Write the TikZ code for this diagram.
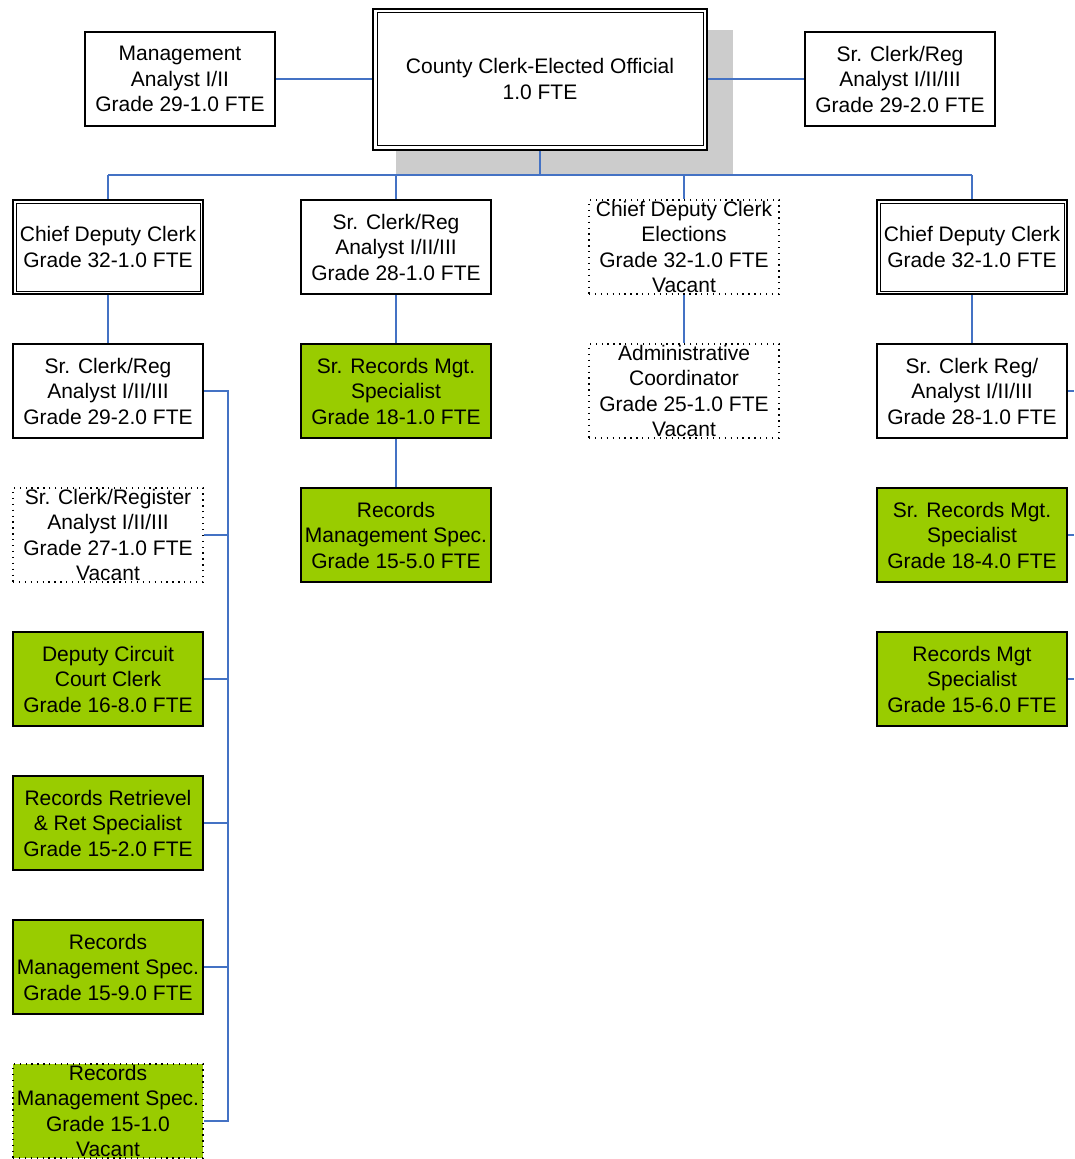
\documentclass[tikz,border=0pt]{standalone}
\usepackage{fontspec}
\setmainfont{Liberation Sans}
\definecolor{grn}{RGB}{153,204,0}
\definecolor{lnk}{RGB}{68,114,196}
\definecolor{shd}{RGB}{204,204,204}
\begin{document}
\begin{tikzpicture}[x=1pt,y=-1pt,
  base/.style={minimum width=190pt, minimum height=94pt, inner sep=0pt, align=center,
    font=\fontsize{21}{25.5}\selectfont, fill=white},
  box/.style={base, draw=black, line width=2pt},
  dbox/.style={base, draw=black, line width=2pt},
  dotbox/.style={base, draw=black, line width=1.3pt, dash pattern=on 1.3pt off 4.6pt},
  green/.style={fill=grn},
  conn/.style={draw=lnk, line width=1.6pt},
  inner/.style={draw=black, line width=1pt}
]
\useasboundingbox (0,0) rectangle (1074,1159);

% shadow of top box
\fill[shd] (396,30) rectangle (733,174);

% top row
\node[box, minimum width=334pt, minimum height=141pt] (cc) at (540,79) {County Clerk-Elected Official\\1.0 FTE};
\draw[inner] ([shift={(5,5)}]cc.north west) rectangle ([shift={(-5,-5)}]cc.south east);
\node[box] (ma) at (180,79) {Management\\Analyst I/II\\Grade 29-1.0 FTE};
\node[box] (sr0) at (900,79) {Sr. Clerk/Reg\\Analyst I/II/III\\Grade 29-2.0 FTE};

% row 2
\node[dbox] (a1) at (108,247) {Chief Deputy Clerk\\Grade 32-1.0 FTE};
\draw[inner] ([shift={(4,4)}]a1.north west) rectangle ([shift={(-4,-4)}]a1.south east);
\node[box] (b1) at (396,247) {Sr. Clerk/Reg\\Analyst I/II/III\\Grade 28-1.0 FTE};
\node[dotbox] (c1) at (684,247) {Chief Deputy Clerk\\Elections\\Grade 32-1.0 FTE\\Vacant};
\node[dbox] (d1) at (972,247) {Chief Deputy Clerk\\Grade 32-1.0 FTE};
\draw[inner] ([shift={(4,4)}]d1.north west) rectangle ([shift={(-4,-4)}]d1.south east);

% row 3
\node[box] (a2) at (108,391) {Sr. Clerk/Reg\\Analyst I/II/III\\Grade 29-2.0 FTE};
\node[box, green] (b2) at (396,391) {Sr. Records Mgt.\\Specialist\\Grade 18-1.0 FTE};
\node[dotbox] (c2) at (684,391) {Administrative\\Coordinator\\Grade 25-1.0 FTE\\Vacant};
\node[box] (d2) at (972,391) {Sr. Clerk Reg/\\Analyst I/II/III\\Grade 28-1.0 FTE};

% row 4
\node[dotbox] (a3) at (108,535) {Sr. Clerk/Register\\Analyst I/II/III\\Grade 27-1.0 FTE\\Vacant};
\node[box, green] (b3) at (396,535) {Records\\Management Spec.\\Grade 15-5.0 FTE};
\node[box, green] (d3) at (972,535) {Sr. Records Mgt.\\Specialist\\Grade 18-4.0 FTE};

% row 5
\node[box, green] (a4) at (108,679) {Deputy Circuit\\Court Clerk\\Grade 16-8.0 FTE};
\node[box, green] (d4) at (972,679) {Records Mgt\\Specialist\\Grade 15-6.0 FTE};

% rows 6-8
\node[box, green] (a5) at (108,823) {Records Retrievel\\\& Ret Specialist\\Grade 15-2.0 FTE};
\node[box, green] (a6) at (108,967) {Records\\Management Spec.\\Grade 15-9.0 FTE};
\node[dotbox, green] (a7) at (108,1111) {Records\\Management Spec.\\Grade 15-1.0\\Vacant};

% connectors
\coordinate (bus) at (540,175);
\coordinate (spT) at (228,391);
\coordinate (sp7) at (228,1121);
\coordinate (edge) at (1074,0);

\draw[conn] (ma.east) -- (cc.west);
\draw[conn] (cc.east) -- (sr0.west);
\draw[conn] (cc.south) -- (bus);
\draw[conn] (bus -| a1.north) -- (bus -| d1.north);
\draw[conn] (bus -| a1.north) -- (a1.north);
\draw[conn] (bus -| b1.north) -- (b1.north);
\draw[conn] (bus -| c1.north) -- (c1.north);
\draw[conn] (bus -| d1.north) -- (d1.north);

\draw[conn] (a1.south) -- (a2.north);
\draw[conn] (b1.south) -- (b2.north);
\draw[conn] (b2.south) -- (b3.north);
\draw[conn] (c1.south) -- (c2.north);
\draw[conn] (d1.south) -- (d2.north);

\draw[conn] (a2.east) -- (spT) -- (sp7) -- (sp7 -| a7.east);
\draw[conn] (a3.east) -- (a3.east -| spT);
\draw[conn] (a4.east) -- (a4.east -| spT);
\draw[conn] (a5.east) -- (a5.east -| spT);
\draw[conn] (a6.east) -- (a6.east -| spT);

\draw[conn] (d2.east) -- (d2.east -| edge);
\draw[conn] (d3.east) -- (d3.east -| edge);
\draw[conn] (d4.east) -- (d4.east -| edge);
\end{tikzpicture}
\end{document}
